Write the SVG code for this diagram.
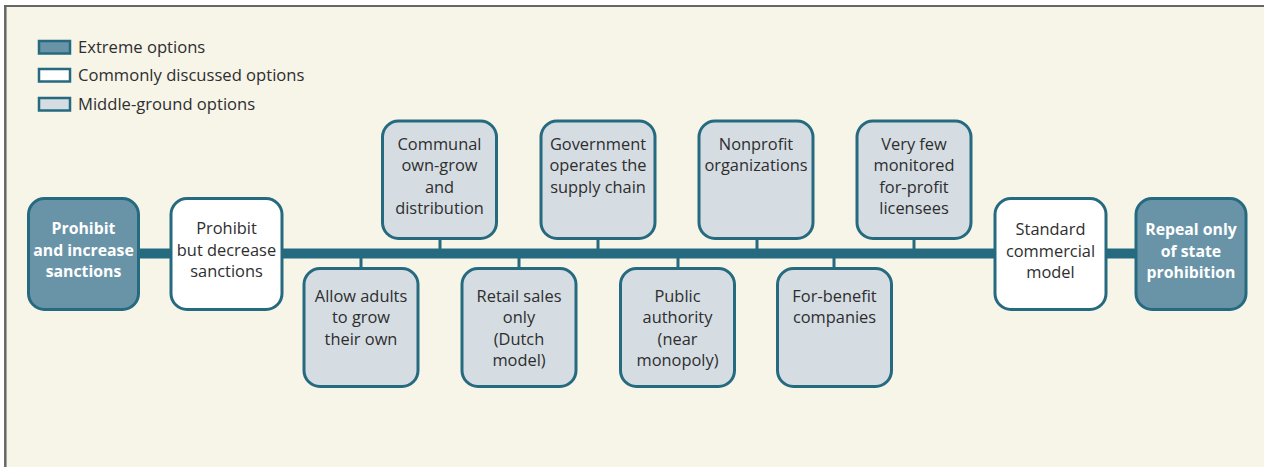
<svg xmlns="http://www.w3.org/2000/svg" width="1264" height="467" viewBox="0 0 1264 467">
<style>
.box{stroke:#266a80;stroke-width:3}
.ext{fill:#6994a8}
.com{fill:#ffffff}
.mid{fill:#d5dde3}
.t{font-family:"Open Sans","Noto Sans",sans-serif;font-size:16.4px;fill:#2e2e2e;text-anchor:middle}
.tb{font-family:"Open Sans","Noto Sans",sans-serif;font-size:15.8px;font-weight:bold;fill:#ffffff;text-anchor:middle}
.lg{font-family:"Open Sans","Noto Sans",sans-serif;font-size:16.6px;fill:#2e2e2e}
.lbox{stroke:#266a80;stroke-width:2.5}
.bar{fill:#266a80}
.stub{stroke:#266a80;stroke-width:3}
</style>
<rect x="0" y="0" width="1264" height="467" fill="#ffffff"/>
<rect x="5" y="6" width="1259" height="461" fill="#f7f4e8"/>
<line x1="4" y1="6" x2="1264" y2="6" stroke="#666666" stroke-width="2"/>
<line x1="5.3" y1="5" x2="5.3" y2="467" stroke="#666666" stroke-width="2.5"/>

<g id="legend">
<rect class="lbox ext" x="39" y="41" width="31" height="12.5"/>
<text class="lg" x="78" y="53">Extreme options</text>
<rect class="lbox com" x="39" y="69" width="31" height="12.5"/>
<text class="lg" x="78" y="81">Commonly discussed options</text>
<rect class="lbox mid" x="39" y="98" width="31" height="12.5"/>
<text class="lg" x="78" y="110">Middle-ground options</text>
</g>

<g id="connectors">
<rect class="bar" x="130" y="248.5" width="1015" height="10"/>
<line class="stub" x1="440" y1="238" x2="440" y2="250"/>
<line class="stub" x1="598" y1="238" x2="598" y2="250"/>
<line class="stub" x1="757" y1="238" x2="757" y2="250"/>
<line class="stub" x1="914" y1="238" x2="914" y2="250"/>
<line class="stub" x1="361" y1="256" x2="361" y2="269"/>
<line class="stub" x1="519" y1="256" x2="519" y2="269"/>
<line class="stub" x1="678" y1="256" x2="678" y2="269"/>
<line class="stub" x1="834" y1="256" x2="834" y2="269"/>
</g>

<g id="n-prohibit-increase">
<rect class="box ext" x="28.5" y="198.5" width="110" height="111" rx="16"/>
<text class="tb" x="83.5" y="234">Prohibit</text>
<text class="tb" x="83.5" y="256">and increase</text>
<text class="tb" x="83.5" y="277">sanctions</text>
</g>
<g id="n-prohibit-decrease">
<rect class="box com" x="171" y="198.5" width="111" height="111" rx="16"/>
<text class="t" x="226.5" y="234">Prohibit</text>
<text class="t" x="226.5" y="256">but decrease</text>
<text class="t" x="226.5" y="277">sanctions</text>
</g>
<g id="n-allow-adults">
<rect class="box mid" x="304" y="268.5" width="114" height="118" rx="16"/>
<text class="t" x="361" y="302">Allow adults</text>
<text class="t" x="361" y="323">to grow</text>
<text class="t" x="361" y="345">their own</text>
</g>
<g id="n-communal">
<rect class="box mid" x="382.5" y="121" width="114" height="117.5" rx="16"/>
<text class="t" x="439.5" y="150">Communal</text>
<text class="t" x="439.5" y="171">own-grow</text>
<text class="t" x="439.5" y="193">and</text>
<text class="t" x="439.5" y="214">distribution</text>
</g>
<g id="n-retail">
<rect class="box mid" x="462" y="268.5" width="114" height="118" rx="16"/>
<text class="t" x="519" y="302">Retail sales</text>
<text class="t" x="519" y="323">only</text>
<text class="t" x="519" y="345">(Dutch</text>
<text class="t" x="519" y="366">model)</text>
</g>
<g id="n-government">
<rect class="box mid" x="541" y="121" width="114" height="117.5" rx="16"/>
<text class="t" x="598" y="150">Government</text>
<text class="t" x="598" y="171">operates the</text>
<text class="t" x="598" y="193">supply chain</text>
</g>
<g id="n-public">
<rect class="box mid" x="620.5" y="268.5" width="114" height="118" rx="16"/>
<text class="t" x="677.5" y="302">Public</text>
<text class="t" x="677.5" y="323">authority</text>
<text class="t" x="677.5" y="345">(near</text>
<text class="t" x="677.5" y="366">monopoly)</text>
</g>
<g id="n-nonprofit">
<rect class="box mid" x="699" y="121" width="114" height="117.5" rx="16"/>
<text class="t" x="756" y="150">Nonprofit</text>
<text class="t" x="756" y="171">organizations</text>
</g>
<g id="n-forbenefit">
<rect class="box mid" x="777.5" y="268.5" width="114" height="118" rx="16"/>
<text class="t" x="834.5" y="302">For-benefit</text>
<text class="t" x="834.5" y="323">companies</text>
</g>
<g id="n-veryfew">
<rect class="box mid" x="857" y="121" width="114" height="117.5" rx="16"/>
<text class="t" x="914" y="150">Very few</text>
<text class="t" x="914" y="171">monitored</text>
<text class="t" x="914" y="193">for-profit</text>
<text class="t" x="914" y="214">licensees</text>
</g>
<g id="n-standard">
<rect class="box com" x="995" y="198.5" width="111" height="111" rx="16"/>
<text class="t" x="1050.5" y="235">Standard</text>
<text class="t" x="1050.5" y="257">commercial</text>
<text class="t" x="1050.5" y="278">model</text>
</g>
<g id="n-repeal">
<rect class="box ext" x="1136" y="198.5" width="110" height="111" rx="16"/>
<text class="tb" x="1191" y="235">Repeal only</text>
<text class="tb" x="1191" y="257">of state</text>
<text class="tb" x="1191" y="278">prohibition</text>
</g>
</svg>
